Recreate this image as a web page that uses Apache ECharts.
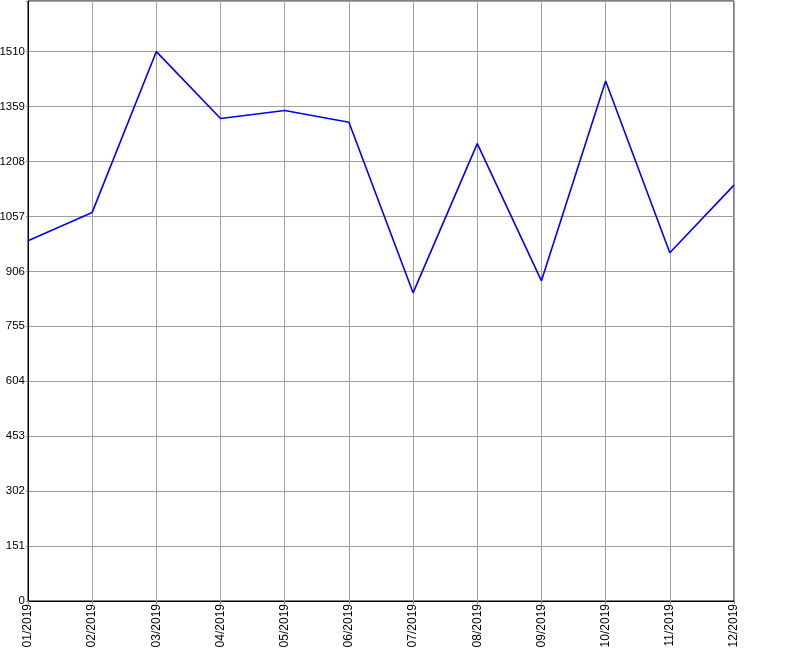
<!DOCTYPE html>
<html>
<head>
<meta charset="utf-8">
<script src="https://cdn.jsdelivr.net/npm/echarts@6/dist/echarts.min.js"></script>
<style>html,body{margin:0;padding:0;background:#fff;}#c{width:800px;height:650px;}</style>
</head>
<body>
<div id="c"></div>
<script>
var categories = ['01/2019','02/2019','03/2019','04/2019','05/2019','06/2019','07/2019','08/2019','09/2019','10/2019','11/2019','12/2019'];
var values = [990, 1068, 1510, 1326, 1348, 1316, 847, 1257, 880, 1429, 957, 1143];
var yInterval = 151;
var yMax = 1649;

var chart = echarts.init(document.getElementById('c'), null, {renderer: 'canvas'});
chart.setOption({
  animation: false,
  backgroundColor: '#ffffff',
  grid: {left: 28, top: 1, right: 66, bottom: 49, show: true, borderColor: '#000', borderWidth: 1,
    containLabel: false, outerBoundsMode: 'none'},
  xAxis: {
    type: 'category',
    data: categories,
    boundaryGap: false,
    axisLine: {show: true, lineStyle: {color: '#000', width: 1}},
    axisTick: {show: true, length: 3, alignWithLabel: true, lineStyle: {color: '#888'}},
    axisLabel: {rotate: 90, color: '#000', fontFamily: 'Liberation Sans', fontSize: 12, margin: 3, interval: 0},
    splitLine: {show: true, lineStyle: {color: '#a0a0a0', width: 1}}
  },
  yAxis: {
    type: 'value',
    min: 0,
    max: yMax,
    interval: yInterval,
    axisLine: {show: true, lineStyle: {color: '#000', width: 1}},
    axisTick: {show: true, length: 2, lineStyle: {color: '#888'}},
    axisLabel: {color: '#000', fontFamily: 'Liberation Sans', fontSize: 11.5, margin: 3,
      formatter: function(v){ return v > 1600 ? '' : String(v); }},
    splitLine: {show: true, lineStyle: {color: '#a0a0a0', width: 1}}
  },
  series: [{
    type: 'line',
    data: values,
    symbol: 'none',
    lineStyle: {color: '#0000ff', width: 1.6},
    itemStyle: {color: '#0000ff'}
  }]
});
</script>
</body>
</html>
